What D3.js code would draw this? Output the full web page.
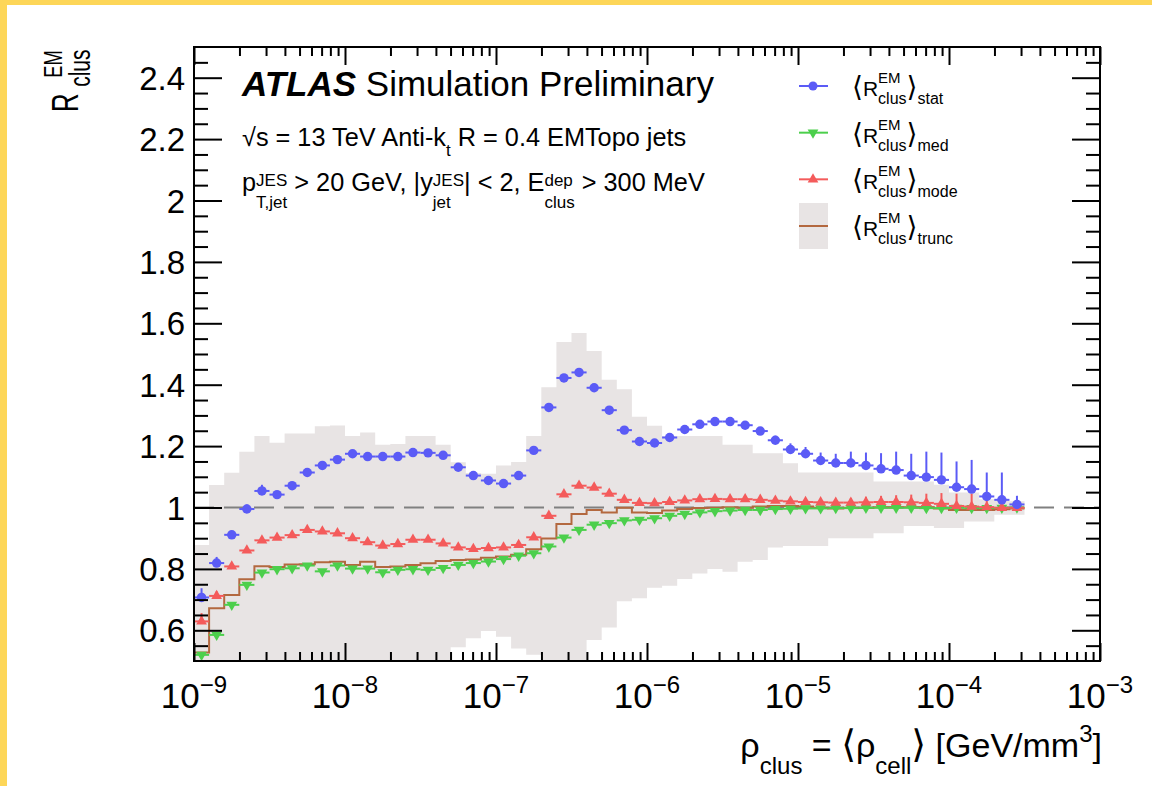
<!DOCTYPE html>
<html>
<head>
<meta charset="utf-8">
<script src="https://cdn.jsdelivr.net/npm/d3@7"></script>
<style>
html, body { margin: 0; padding: 0; background: #fff; }
svg text { font-family: "Liberation Sans", Arial, Helvetica, sans-serif; fill: #000; white-space: pre; }
</style>
</head>
<body>
<svg id="chart" width="1152" height="786"></svg>
<script>
/* global d3 */

// binning: log10 of the bin edges (rho_clus)
const binEdgeExp = [-9.0, -8.9, -8.8, -8.7, -8.6, -8.5, -8.4, -8.3, -8.2, -8.1,
  -8.0, -7.9, -7.8, -7.7, -7.6, -7.5, -7.4, -7.3, -7.2, -7.1,
  -7.0, -6.9, -6.8, -6.7, -6.6, -6.5, -6.4, -6.3, -6.2, -6.1,
  -6.0, -5.9, -5.8, -5.7, -5.6, -5.5, -5.4, -5.3, -5.2, -5.1,
  -5.0, -4.9, -4.8, -4.7, -4.6, -4.5, -4.4, -4.3, -4.2, -4.1,
  -4.0, -3.9, -3.8, -3.7, -3.6, -3.5]

// <R>_stat (blue circles)
const statVals = [0.707, 0.819, 0.911, 0.995, 1.054, 1.042, 1.071, 1.114, 1.137, 1.156,
  1.175, 1.166, 1.166, 1.166, 1.179, 1.178, 1.170, 1.131, 1.104, 1.088,
  1.078, 1.104, 1.186, 1.326, 1.422, 1.440, 1.390, 1.317, 1.252, 1.215,
  1.210, 1.228, 1.254, 1.271, 1.280, 1.280, 1.268, 1.249, 1.219, 1.189,
  1.175, 1.153, 1.145, 1.145, 1.137, 1.126, 1.122, 1.104, 1.099, 1.090,
  1.066, 1.060, 1.036, 1.025, 1.010]
const statErrUp = [0.03, 0.02, 0.01, 0.015, 0.02, 0.01, 0.008, 0.006, 0.006, 0.006,
  0.006, 0.006, 0.006, 0.006, 0.006, 0.006, 0.006, 0.006, 0.006, 0.006,
  0.006, 0.006, 0.006, 0.006, 0.006, 0.006, 0.006, 0.006, 0.006, 0.006,
  0.006, 0.006, 0.006, 0.006, 0.006, 0.006, 0.006, 0.008, 0.015, 0.02,
  0.022, 0.026, 0.03, 0.037, 0.042, 0.051, 0.06, 0.071, 0.083, 0.089,
  0.084, 0.095, 0.078, 0.089, 0.028]

// <R>_med (green down triangles)
const medVals = [0.520, 0.585, 0.683, 0.748, 0.788, 0.799, 0.802, 0.811, 0.792, 0.811,
  0.801, 0.801, 0.789, 0.797, 0.799, 0.797, 0.803, 0.813, 0.819, 0.824,
  0.832, 0.843, 0.851, 0.873, 0.902, 0.927, 0.944, 0.949, 0.958, 0.960,
  0.965, 0.973, 0.979, 0.984, 0.988, 0.990, 0.992, 0.992, 0.995, 0.996,
  0.997, 0.997, 0.998, 0.998, 0.999, 0.999, 0.999, 0.999, 0.998, 0.998,
  0.999, 0.998, 0.998, 0.999, 1.000]

// <R>_mode (red up triangles)
const modeVals = [0.629, 0.712, 0.808, 0.860, 0.893, 0.902, 0.910, 0.927, 0.922, 0.916,
  0.900, 0.887, 0.876, 0.881, 0.895, 0.895, 0.883, 0.870, 0.865, 0.868,
  0.870, 0.878, 0.903, 0.973, 1.043, 1.071, 1.065, 1.045, 1.025, 1.015,
  1.014, 1.018, 1.023, 1.027, 1.028, 1.027, 1.027, 1.025, 1.022, 1.020,
  1.018, 1.017, 1.016, 1.016, 1.017, 1.018, 1.018, 1.017, 1.015, 1.012,
  1.005, 1.003, 1.001, 0.999, 0.999]
const modeErrUp = [0.027, 0.015, 0.005, 0.005, 0.005, 0.005, 0.005, 0.005, 0.005, 0.005,
  0.005, 0.005, 0.005, 0.005, 0.005, 0.005, 0.005, 0.005, 0.005, 0.005,
  0.005, 0.005, 0.005, 0.005, 0.005, 0.005, 0.005, 0.005, 0.005, 0.005,
  0.005, 0.005, 0.005, 0.005, 0.005, 0.005, 0.005, 0.005, 0.006, 0.007,
  0.008, 0.01, 0.012, 0.015, 0.018, 0.02, 0.022, 0.025, 0.03, 0.035,
  0.04, 0.042, 0.035, 0.025, 0.012]

// <R>_trunc (brown step line) and its band
const truncVals = [0.528, 0.672, 0.715, 0.766, 0.809, 0.806, 0.814, 0.815, 0.822, 0.823,
  0.813, 0.823, 0.806, 0.808, 0.813, 0.818, 0.826, 0.829, 0.831, 0.836,
  0.840, 0.846, 0.864, 0.899, 0.946, 0.979, 0.992, 0.984, 0.999, 0.984,
  0.982, 0.990, 0.995, 0.998, 0.999, 1.001, 0.999, 1.003, 1.005, 1.005,
  1.003, 0.999, 0.997, 0.999, 0.998, 1.001, 1.001, 1.001, 1.001, 0.997,
  0.992, 0.992, 0.992, 0.994, 0.997]
const truncHi = [0.878, 1.073, 1.113, 1.182, 1.233, 1.211, 1.241, 1.241, 1.265, 1.267,
  1.233, 1.244, 1.204, 1.207, 1.233, 1.233, 1.204, 1.147, 1.112, 1.110,
  1.137, 1.148, 1.233, 1.392, 1.539, 1.568, 1.510, 1.416, 1.385, 1.296,
  1.266, 1.233, 1.233, 1.233, 1.233, 1.204, 1.204, 1.177, 1.177, 1.144,
  1.114, 1.114, 1.114, 1.114, 1.114, 1.085, 1.085, 1.085, 1.085, 1.074,
  1.049, 1.049, 1.027, 1.027, 1.020]
const truncLo = [0.45, 0.45, 0.45, 0.45, 0.45, 0.45, 0.45, 0.45, 0.45, 0.45,
  0.45, 0.45, 0.45, 0.45, 0.45, 0.45, 0.45, 0.545, 0.574, 0.598,
  0.579, 0.541, 0.520, 0.45, 0.45, 0.45, 0.568, 0.609, 0.695, 0.704,
  0.739, 0.745, 0.767, 0.785, 0.800, 0.791, 0.823, 0.829, 0.870, 0.875,
  0.875, 0.875, 0.900, 0.900, 0.900, 0.916, 0.916, 0.940, 0.940, 0.933,
  0.933, 0.954, 0.954, 0.976, 0.976]

// axes
const xTickExp = [-9, -8, -7, -6, -5, -4, -3]
const yTicks = [0.6, 0.8, 1, 1.2, 1.4, 1.6, 1.8, 2, 2.2, 2.4]

const colors = {
  stat: "#5b5bf6",
  med: "#4ccf4c",
  mode: "#f45b5b",
  trunc: "#b3683f",
  band: "#e8e4e4",
  frame: "#fdd658"
}

const svg = d3.select("#chart")

// page frame (yellow edges of the slide)
svg.append("rect").attr("x", 0).attr("y", 0).attr("width", 1152).attr("height", 5).attr("fill", colors.frame)
svg.append("rect").attr("x", 0).attr("y", 0).attr("width", 7).attr("height", 786).attr("fill", colors.frame)

const area = { left: 194, right: 1100, top: 47, bottom: 661 }

const x = d3.scaleLog().domain([1e-9, 1e-3]).range([area.left, area.right])
const y = d3.scaleLinear().domain([0.5, 2.5]).range([area.bottom, area.top])

svg.append("clipPath").attr("id", "plotclip")
  .append("rect")
  .attr("x", area.left).attr("y", area.top)
  .attr("width", area.right - area.left).attr("height", area.bottom - area.top)

// rich text helper: sequential pieces, arrays are stacked sup/sub pairs
const rich = (parent, px, py, parts, anchor = "start") => {
  const grp = parent.append("g")
  let cx = 0
  parts.forEach(p => {
    const items = Array.isArray(p) ? p : [p]
    let w = 0
    items.forEach(it => {
      const t = grp.append("text")
        .attr("x", cx)
        .attr("y", it.dy || 0)
        .attr("font-size", it.fs)
        .text(it.t)
      if (it.ff) t.style("font-family", it.ff)
      if (it.fw) t.attr("font-weight", it.fw)
      if (it.fi) t.attr("font-style", "italic")
      w = Math.max(w, t.node().getComputedTextLength())
    })
    cx += w
  })
  const off = anchor === "end" ? -cx : anchor === "middle" ? -cx / 2 : 0
  grp.attr("transform", `translate(${px + off},${py})`)
  return grp
}

// bins
const bins = statVals.map((v, i) => ({
  lo: Math.pow(10, binEdgeExp[i]),
  hi: Math.pow(10, binEdgeExp[i + 1]),
  mid: Math.pow(10, (binEdgeExp[i] + binEdgeExp[i + 1]) / 2),
  stat: v,
  statUp: statErrUp[i],
  med: medVals[i],
  mode: modeVals[i],
  modeUp: modeErrUp[i],
  trunc: truncVals[i],
  bandHi: truncHi[i],
  bandLo: truncLo[i]
}))

const steps = bins.flatMap(b => [{ x: b.lo, b }, { x: b.hi, b }])

const plot = svg.append("g").attr("clip-path", "url(#plotclip)")

// trunc band
plot.append("path")
  .datum(steps)
  .attr("fill", colors.band)
  .attr("d", d3.area()
    .x(d => x(d.x))
    .y0(d => y(d.b.bandLo))
    .y1(d => y(d.b.bandHi)))

// reference line at 1
plot.append("line")
  .attr("x1", x(1e-9)).attr("x2", x(1e-3))
  .attr("y1", y(1)).attr("y2", y(1))
  .attr("stroke", "#808080")
  .attr("stroke-width", 2)
  .attr("stroke-dasharray", "20,10")

// trunc step line
plot.append("path")
  .datum(steps)
  .attr("fill", "none")
  .attr("stroke", colors.trunc)
  .attr("stroke-width", 2)
  .attr("d", d3.line().x(d => x(d.x)).y(d => y(d.b.trunc)))

const triUp = d3.symbol().type(d3.symbolTriangle).size(50)

const drawSeries = (key, upKey, color, marker) => {
  const g = plot.append("g")
  g.selectAll(".hbar").data(bins).enter().append("line")
    .attr("x1", d => x(d.lo)).attr("x2", d => x(d.hi))
    .attr("y1", d => y(d[key])).attr("y2", d => y(d[key]))
    .attr("stroke", color).attr("stroke-width", 2)
  g.selectAll(".vbar").data(bins).enter().append("line")
    .attr("x1", d => x(d.mid)).attr("x2", d => x(d.mid))
    .attr("y1", d => y(d[key])).attr("y2", d => y(d[key] + (upKey ? d[upKey] : 0.005)))
    .attr("stroke", color).attr("stroke-width", 2)
  g.selectAll(".mk").data(bins).enter().append("path")
    .attr("d", marker === "circle" ? d3.symbol().type(d3.symbolCircle).size(70)() : triUp())
    .attr("transform", d => `translate(${x(d.mid)},${y(d[key])})` + (marker === "down" ? " rotate(180)" : ""))
    .attr("fill", color)
}

drawSeries("med", null, colors.med, "down")
drawSeries("mode", "modeUp", colors.mode, "up")
drawSeries("stat", "statUp", colors.stat, "circle")

// axes (ROOT style ticks on all four sides)
const xMajor = xTickExp.map(e => Math.pow(10, e))
const isMajor = t => Math.abs(Math.log10(t) - Math.round(Math.log10(t))) < 1e-6
const xMinor = x.ticks().filter(t => !isMajor(t))
const yMinor = d3.range(0.55, 2.5, 0.05).filter(v => !yTicks.some(t => Math.abs(t - v) < 1e-6))

const axisGroup = (axis, tr) => {
  const g = svg.append("g").attr("transform", tr).call(axis)
  g.select(".domain").remove()
  g.selectAll("line").attr("stroke", "#000").attr("stroke-width", 2)
  g.selectAll("text").remove()
}

axisGroup(d3.axisBottom(x).tickValues(xMajor).tickSize(-18), `translate(0,${area.bottom})`)
axisGroup(d3.axisBottom(x).tickValues(xMinor).tickSize(-9), `translate(0,${area.bottom})`)
axisGroup(d3.axisTop(x).tickValues(xMajor).tickSize(-18), `translate(0,${area.top})`)
axisGroup(d3.axisTop(x).tickValues(xMinor).tickSize(-9), `translate(0,${area.top})`)
axisGroup(d3.axisLeft(y).tickValues(yTicks).tickSize(-28), `translate(${area.left},0)`)
axisGroup(d3.axisLeft(y).tickValues(yMinor).tickSize(-14), `translate(${area.left},0)`)
axisGroup(d3.axisRight(y).tickValues(yTicks).tickSize(-28), `translate(${area.right},0)`)
axisGroup(d3.axisRight(y).tickValues(yMinor).tickSize(-14), `translate(${area.right},0)`)

svg.append("rect")
  .attr("x", area.left).attr("y", area.top)
  .attr("width", area.right - area.left).attr("height", area.bottom - area.top)
  .attr("fill", "none").attr("stroke", "#000").attr("stroke-width", 2)

// tick labels
svg.selectAll(".ylab").data(yTicks).enter().append("text")
  .attr("x", 185).attr("y", d => y(d) + 12)
  .attr("text-anchor", "end")
  .attr("font-size", 33)
  .text(d => String(d))

xTickExp.forEach(e => {
  rich(svg, x(Math.pow(10, e)), 708, [
    { t: "10", fs: 35 },
    { t: "\u2212" + Math.abs(e), fs: 24, dy: -15 }
  ], "middle")
})

// axis titles
rich(svg, 1102, 757, [
  { t: "ρ", fs: 34 },
  { t: "clus", fs: 24, dy: 17 },
  { t: " = ", fs: 34 },
  { t: "⟨", fs: 38, ff: "DejaVu Sans" },
  { t: "ρ", fs: 34 },
  { t: "cell", fs: 24, dy: 17 },
  { t: "⟩", fs: 38, ff: "DejaVu Sans" },
  { t: " [GeV/mm", fs: 34 },
  { t: "3", fs: 24, dy: -15 },
  { t: "]", fs: 34 }
], "end")

const yTitle = svg.append("g").attr("transform", "translate(78,112) rotate(-90) scale(0.7,1)")
yTitle.append("text").attr("x", 0).attr("y", 0).attr("font-size", 37).text("R")
yTitle.append("text").attr("x", 36).attr("y", 12).attr("font-size", 30).text("clus")
yTitle.append("text").attr("x", 49).attr("y", -16).attr("font-size", 26).text("EM")

// labels
rich(svg, 242, 96, [
  { t: "ATLAS", fs: 35, fw: "bold", fi: true },
  { t: " Simulation Preliminary", fs: 35 }
])
rich(svg, 242, 146, [
  { t: "√s = 13 TeV Anti-k", fs: 25.3 },
  { t: "t", fs: 17, dy: 10 },
  { t: " R = 0.4 EMTopo jets", fs: 25.3 }
])
rich(svg, 242, 191, [
  { t: "p", fs: 25.3 },
  [{ t: "JES", fs: 17, dy: -5 }, { t: "T,jet", fs: 17, dy: 17 }],
  { t: " > 20 GeV, |y", fs: 25.3 },
  [{ t: "JES", fs: 17, dy: -5 }, { t: "jet", fs: 17, dy: 17 }],
  { t: "| < 2, E", fs: 25.3 },
  [{ t: "dep", fs: 17, dy: -5 }, { t: "clus", fs: 17, dy: 17 }],
  { t: " > 300 MeV", fs: 25.3 }
])

// legend
const legendRows = [
  { name: "stat", color: colors.stat, marker: "circle" },
  { name: "med", color: colors.med, marker: "down" },
  { name: "mode", color: colors.mode, marker: "up" },
  { name: "trunc", color: colors.trunc, marker: "band" }
]
const legendY = d3.scalePoint().domain(legendRows.map(d => d.name)).range([86, 226])

legendRows.forEach(r => {
  const cy = legendY(r.name)
  if (r.marker === "band") {
    svg.append("rect").attr("x", 799).attr("y", cy - 23).attr("width", 29).attr("height", 46).attr("fill", colors.band)
  }
  svg.append("line").attr("x1", 799).attr("x2", 828).attr("y1", cy).attr("y2", cy)
    .attr("stroke", r.color).attr("stroke-width", 2)
  if (r.marker === "circle") {
    svg.append("circle").attr("cx", 813).attr("cy", cy).attr("r", 4.5).attr("fill", r.color)
  } else if (r.marker !== "band") {
    svg.append("path").attr("d", triUp())
      .attr("transform", `translate(813,${cy})` + (r.marker === "down" ? " rotate(180)" : ""))
      .attr("fill", r.color)
  }
  rich(svg, 852, cy + 10, [
    { t: "⟨", fs: 28, ff: "DejaVu Sans" },
    { t: "R", fs: 21 },
    [{ t: "EM", fs: 15, dy: -13 }, { t: "clus", fs: 16, dy: 8 }],
    { t: "⟩", fs: 28, ff: "DejaVu Sans" },
    { t: r.name, fs: 16, dy: 8 }
  ])
})
</script>
</body>
</html>
